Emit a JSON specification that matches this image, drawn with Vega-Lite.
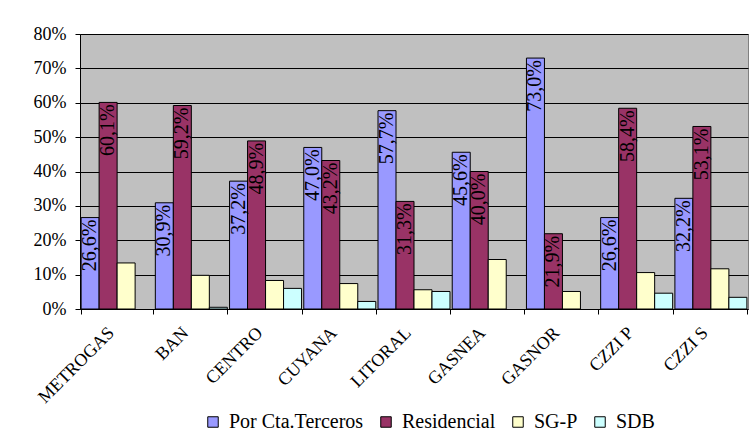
{
  "$schema": "https://vega.github.io/schema/vega-lite/v6.json",
  "width": 668,
  "height": 275,
  "autosize": {"type": "none"},
  "padding": {"left": 80, "top": 34, "right": 1, "bottom": 128},
  "background": "white",
  "config": {
    "locale": {"number": {"decimal": ",", "thousands": ".", "grouping": [3], "currency": ["$", ""]}},
    "view": {"fill": "#C0C0C0", "stroke": "#808080", "strokeWidth": 1},
    "font": "Liberation Serif",
    "axis": {"labelFont": "Liberation Serif", "labelColor": "black", "domainColor": "black", "tickColor": "black", "tickSize": 5, "domainWidth": 1, "tickWidth": 1},
    "legend": {"labelFont": "serif", "labelFontSize": 20, "labelColor": "black"}
  },
  "data": {"values": [
    {"empresa": "METROGAS", "serie": "Por Cta.Terceros", "valor": 0.266},
    {"empresa": "METROGAS", "serie": "Residencial", "valor": 0.601},
    {"empresa": "METROGAS", "serie": "SG-P", "valor": 0.134},
    {"empresa": "BAN", "serie": "Por Cta.Terceros", "valor": 0.309},
    {"empresa": "BAN", "serie": "Residencial", "valor": 0.592},
    {"empresa": "BAN", "serie": "SG-P", "valor": 0.098},
    {"empresa": "BAN", "serie": "SDB", "valor": 0.005},
    {"empresa": "CENTRO", "serie": "Por Cta.Terceros", "valor": 0.372},
    {"empresa": "CENTRO", "serie": "Residencial", "valor": 0.489},
    {"empresa": "CENTRO", "serie": "SG-P", "valor": 0.083},
    {"empresa": "CENTRO", "serie": "SDB", "valor": 0.060},
    {"empresa": "CUYANA", "serie": "Por Cta.Terceros", "valor": 0.470},
    {"empresa": "CUYANA", "serie": "Residencial", "valor": 0.432},
    {"empresa": "CUYANA", "serie": "SG-P", "valor": 0.074},
    {"empresa": "CUYANA", "serie": "SDB", "valor": 0.022},
    {"empresa": "LITORAL", "serie": "Por Cta.Terceros", "valor": 0.577},
    {"empresa": "LITORAL", "serie": "Residencial", "valor": 0.313},
    {"empresa": "LITORAL", "serie": "SG-P", "valor": 0.056},
    {"empresa": "LITORAL", "serie": "SDB", "valor": 0.051},
    {"empresa": "GASNEA", "serie": "Por Cta.Terceros", "valor": 0.456},
    {"empresa": "GASNEA", "serie": "Residencial", "valor": 0.400},
    {"empresa": "GASNEA", "serie": "SG-P", "valor": 0.144},
    {"empresa": "GASNOR", "serie": "Por Cta.Terceros", "valor": 0.730},
    {"empresa": "GASNOR", "serie": "Residencial", "valor": 0.219},
    {"empresa": "GASNOR", "serie": "SG-P", "valor": 0.051},
    {"empresa": "CZZI P", "serie": "Por Cta.Terceros", "valor": 0.266},
    {"empresa": "CZZI P", "serie": "Residencial", "valor": 0.584},
    {"empresa": "CZZI P", "serie": "SG-P", "valor": 0.106},
    {"empresa": "CZZI P", "serie": "SDB", "valor": 0.046},
    {"empresa": "CZZI S", "serie": "Por Cta.Terceros", "valor": 0.322},
    {"empresa": "CZZI S", "serie": "Residencial", "valor": 0.531},
    {"empresa": "CZZI S", "serie": "SG-P", "valor": 0.117},
    {"empresa": "CZZI S", "serie": "SDB", "valor": 0.034}
  ]},
  "encoding": {
    "x": {
      "field": "empresa", "type": "nominal", "title": null,
      "sort": ["METROGAS", "BAN", "CENTRO", "CUYANA", "LITORAL", "GASNEA", "GASNOR", "CZZI P", "CZZI S"],
      "scale": {"paddingInner": 0.03, "paddingOuter": 0.015},
      "axis": {"tickBand": "extent", "labelAngle": -45, "labelAlign": "right", "labelBaseline": "middle", "labelFontSize": 18, "labelPadding": 16, "labelOffset": -6, "grid": false, "labelOverlap": false, "labelLimit": 0}
    },
    "xOffset": {
      "field": "serie", "type": "nominal",
      "sort": ["Por Cta.Terceros", "Residencial", "SG-P", "SDB"],
      "scale": {"paddingInner": 0, "paddingOuter": 0}
    },
    "y": {
      "field": "valor", "type": "quantitative", "title": null,
      "scale": {"domain": [0, 0.8], "nice": false},
      "axis": {"format": ".0%", "values": [0, 0.1, 0.2, 0.3, 0.4, 0.5, 0.6, 0.7, 0.8], "labelOverlap": false, "grid": true, "gridColor": "black", "gridWidth": 1, "labelFontSize": 18, "labelPadding": 9}
    }
  },
  "layer": [
    {
      "mark": {"type": "bar", "stroke": "black", "strokeWidth": 1},
      "encoding": {
        "color": {
          "field": "serie", "type": "nominal",
          "sort": ["Por Cta.Terceros", "Residencial", "SG-P", "SDB"],
          "scale": {"domain": ["Por Cta.Terceros", "Residencial", "SG-P", "SDB"], "range": ["#9999FF", "#993366", "#FFFFCC", "#CCFFFF"]},
          "legend": {
            "orient": "none", "legendX": 123, "legendY": 378, "direction": "horizontal", "title": null,
            "labelFont": "serif", "labelFontSize": 20, "labelColor": "black",
            "symbolType": "square", "symbolSize": 110, "symbolStrokeColor": "black", "symbolStrokeWidth": 1, "symbolOpacity": 1,
            "labelOffset": 6, "columnPadding": 12
          }
        }
      }
    },
    {
      "transform": [{"filter": "datum.serie == 'Por Cta.Terceros' || datum.serie == 'Residencial'"}],
      "mark": {"type": "text", "angle": 270, "align": "right", "baseline": "middle", "dx": -2, "fontSize": 20, "font": "Liberation Serif", "color": "black"},
      "encoding": {
        "text": {"field": "valor", "type": "quantitative", "format": ".1%"}
      }
    }
  ]
}
